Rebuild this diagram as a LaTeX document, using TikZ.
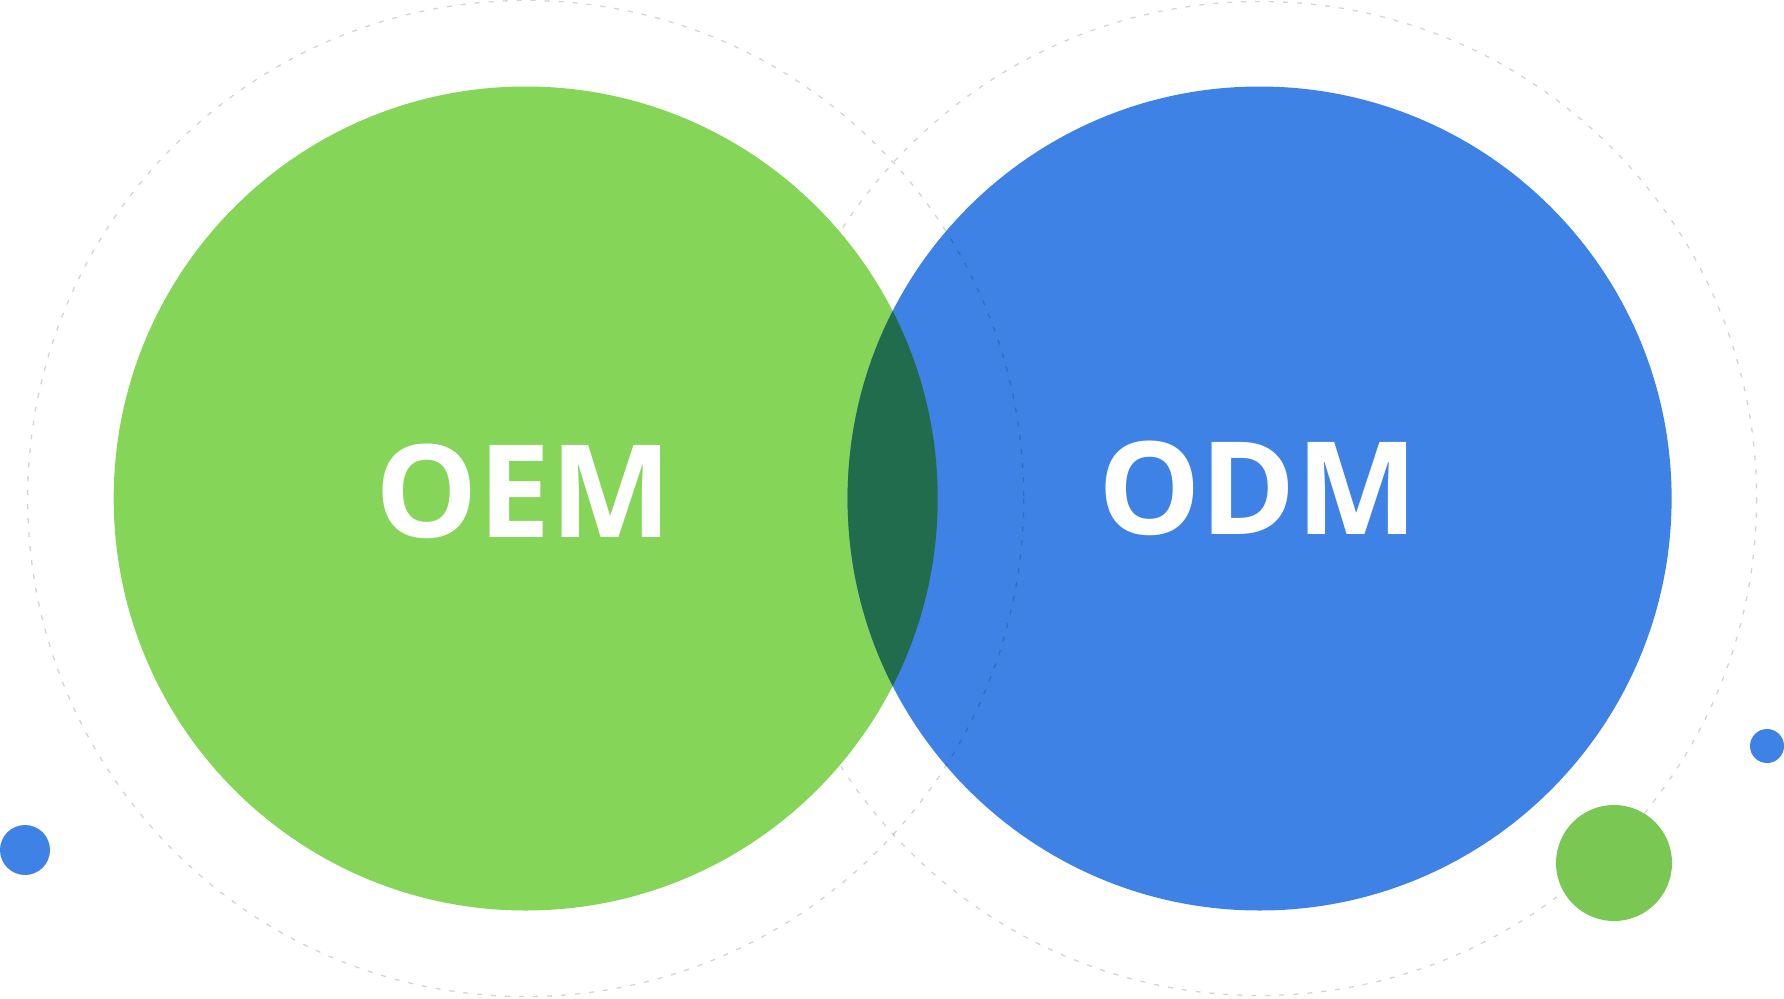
\documentclass[tikz,border=0pt]{standalone}
\usepackage{fontspec}
\setmainfont{Open Sans}
\definecolor{bggreen}{HTML}{84D558}
\definecolor{bgblue}{HTML}{3E82E6}
\definecolor{lensgreen}{HTML}{206C4C}
\definecolor{dotgreen}{HTML}{7BC753}
\begin{document}
\begin{tikzpicture}[x=1pt,y=-1pt,
  ring/.style={draw=black,draw opacity=0.17,line width=1.3pt,dash pattern=on 5pt off 9pt},
  label/.style={text=white,font=\fontsize{129}{130}\selectfont\bfseries,inner sep=0pt}]
\useasboundingbox (0,0) rectangle (1784,998);
\coordinate (cl) at (525.7,498.5);
\coordinate (cr) at (1259.6,498.5);
% outer dashed ring of the right circle (under green)
\draw[ring] (cr) circle[radius=497];
% main circles
\fill[bggreen] (cl) circle[radius=412];
\fill[bgblue] (cr) circle[radius=412];
% intersection
\begin{scope}
  \clip (cl) circle[radius=412];
  \fill[lensgreen] (cr) circle[radius=412];
\end{scope}
% outer dashed ring of the left circle (over blue)
\draw[ring] (cl) circle[radius=498];
% decorative dots
\fill[bgblue] (25,850) circle[radius=25];
\fill[dotgreen] (1614,863) circle[radius=58];
\fill[bgblue] (1767,746) circle[radius=17];
% labels
\node[label] (oem) at (524,491) {OEM};
\node[label] (odm) at (1258,488.5) {ODM};
\end{tikzpicture}
\end{document}
